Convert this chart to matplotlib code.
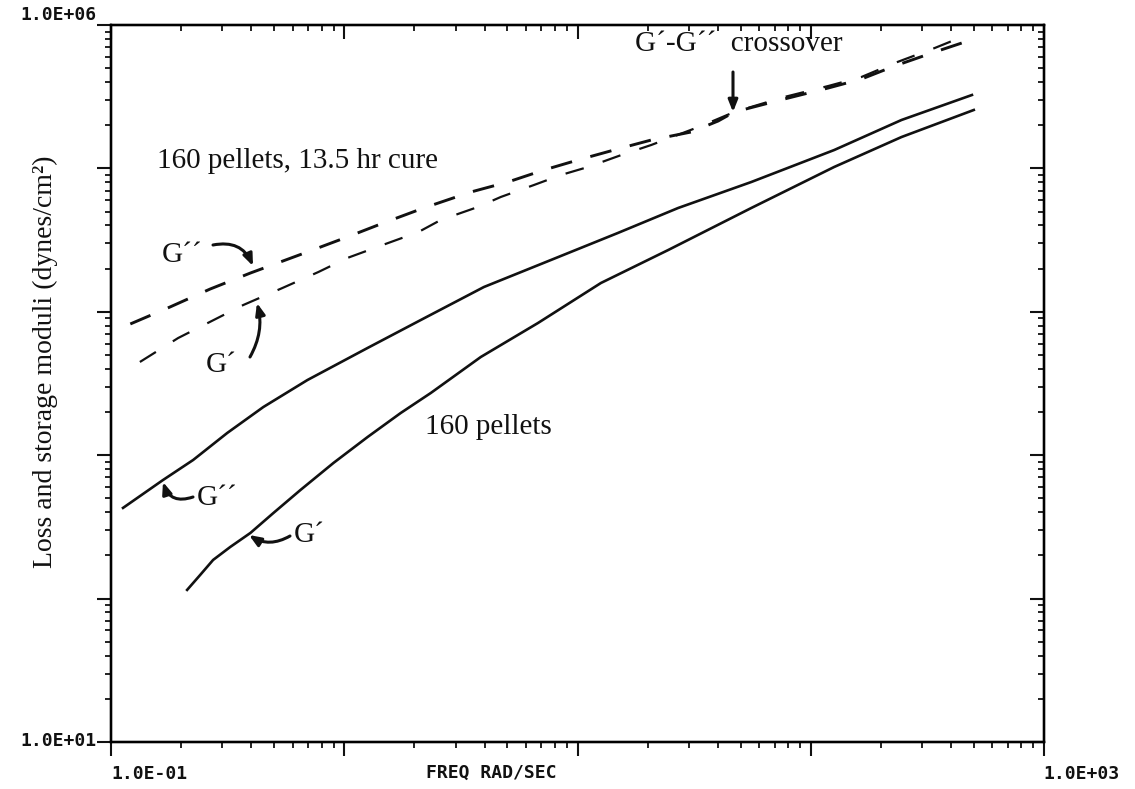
import matplotlib
matplotlib.use('Agg')
import matplotlib.pyplot as plt
from matplotlib.ticker import LogLocator, NullFormatter

# ---------------- data ----------------
# 160 pellets, 13.5 hr cure  (dashed)
freq_cure_Gpp = [0.121, 0.179, 0.266, 0.396, 0.695, 1.03, 1.47, 2.19, 3.49, 5.03, 7.18,
                 10.05, 15.4, 20.7, 30.7, 40.1, 47.0, 77.1, 119, 165, 229, 340, 444]
Gpp_cure = [8225, 10800, 14410, 18640, 26140, 33240, 41610, 52950, 68450, 80370, 97460,
            114500, 138700, 157700, 179400, 214100, 247300, 304800, 363800, 420000,
            518000, 648000, 748700]
freq_cure_Gp = [0.133, 0.194, 0.369, 0.543, 0.775, 1.03, 1.46, 2.08, 2.59, 3.74, 4.69,
                6.50, 8.49, 11.1, 15.4, 20.7, 33.9, 47.0, 77.1, 119, 165, 229, 340, 467]
Gp_cure = [4467, 6563, 11150, 14650, 18950, 23720, 29220, 36000, 43650, 53800, 63200,
           76560, 89940, 102300, 123900, 145600, 197600, 247300, 314800, 375600,
           434000, 543000, 691000, 851700]
# 160 pellets (solid)
freq_Gpp = [0.1126, 0.167, 0.225, 0.315, 0.450, 0.695, 1.259, 2.13, 3.97, 7.69, 14.9,
            27.0, 55.6, 126, 245, 491]
Gpp = [429, 671, 926, 1429, 2168, 3342, 5595, 8770, 14890, 22970, 35460, 52950,
       80370, 134300, 217600, 325000]
freq_Gp = [0.212, 0.241, 0.274, 0.3244, 0.396, 0.4966, 0.649, 0.899, 1.259, 1.745, 2.35,
           3.85, 6.77, 12.6, 24.5, 55.6, 126, 245, 500]
Gp = [115, 146, 186, 229, 287, 395, 572, 883, 1339, 1968, 2716, 4841, 8354, 15880,
      26980, 52950, 102300, 165500, 255500]

x_limits = (0.1, 1000)
y_limits = (10, 1e6)
x_tick_labels = ["1.0E-01", "1.0E+03"]
y_tick_labels = ["1.0E+01", "1.0E+06"]
x_title = "FREQ RAD/SEC"
y_title = "Loss and storage moduli (dynes/cm\u00b2)"

# ---------------- figure ----------------
W, H = 1135, 789
fig = plt.figure(figsize=(W / 100, H / 100), dpi=100)
fig.patch.set_facecolor('white')
L, R, T, B = 111, 1044, 25, 742
ax = fig.add_axes([L / W, (H - B) / H, (R - L) / W, (B - T) / H])

ax.set_xscale('log')
ax.set_yscale('log')
ax.set_xlim(*x_limits)
ax.set_ylim(*y_limits)

ink = '#111111'
ax.plot(freq_cure_Gpp, Gpp_cure, color=ink, lw=2.1, dashes=(7.5, 6.5), solid_capstyle='butt')
ax.plot(freq_cure_Gp, Gp_cure, color=ink, lw=1.6, dashes=(8.5, 9.0))
ax.plot(freq_Gpp, Gpp, color=ink, lw=1.9)
ax.plot(freq_Gp, Gp, color=ink, lw=1.9)

for sp in ax.spines.values():
    sp.set_linewidth(1.6)
    sp.set_color(ink)

def setup_log_ticks(axis):
    axis.set_major_locator(LogLocator(base=10))
    axis.set_minor_locator(LogLocator(base=10, subs=range(2, 10)))
    axis.set_major_formatter(NullFormatter())
    axis.set_minor_formatter(NullFormatter())

setup_log_ticks(ax.xaxis)
setup_log_ticks(ax.yaxis)
ax.tick_params(which='major', direction='out', length=10, width=1.5, color=ink)
ax.tick_params(which='minor', direction='out', length=4.5, width=1.3, color=ink)

axr = ax.twinx()
axr.set_yscale('log')
axr.set_ylim(*y_limits)
setup_log_ticks(axr.yaxis)
axr.tick_params(which='major', direction='in', length=10, width=1.5, color=ink)
axr.tick_params(which='minor', direction='in', length=4.5, width=1.3, color=ink)

axt = ax.twiny()
axt.set_xscale('log')
axt.set_xlim(*x_limits)
setup_log_ticks(axt.xaxis)
axt.tick_params(which='major', direction='in', length=10, width=1.5, color=ink)
axt.tick_params(which='minor', direction='in', length=4.5, width=1.3, color=ink)
for a in (axr, axt):
    for sp in a.spines.values():
        sp.set_linewidth(1.6)

# ---------------- plotter-style tick labels ----------------
mono = dict(family=['DejaVu Sans Mono'], weight='bold', fontsize=13, color=ink)

def ftext(px, py, s, **kw):
    fig.text(px / W, 1 - py / H, s, **kw)

ftext(L, 765, x_tick_labels[0], ha='left', va='top', **mono)
ftext(R - 1, 765, x_tick_labels[1], ha='left', va='top', **mono)
ftext(97, 24, y_tick_labels[1], ha='right', va='bottom', **mono)
ftext(97, 746, y_tick_labels[0], ha='right', va='baseline', **mono)
ftext(491, 773, x_title, ha='center', va='center', **mono)

serif = dict(family=['Liberation Serif', 'DejaVu Serif'], color=ink)
ftext(45, 362, y_title, rotation=90, ha='center', va='center', fontsize=20, **serif)

# ---------------- annotations ----------------
ftext(157, 168, "160 pellets, 13.5 hr cure", ha='left', va='baseline', fontsize=21, **serif)
ftext(635, 51, "G\u00b4-G\u00b4\u00b4  crossover", ha='left', va='baseline', fontsize=21, **serif)
ftext(425, 434, "160 pellets", ha='left', va='baseline', fontsize=21, **serif)
ftext(162, 262, "G\u00b4\u00b4", ha='left', va='baseline', fontsize=21, **serif)
ftext(206, 372, "G\u00b4", ha='left', va='baseline', fontsize=21, **serif)
ftext(197, 505, "G\u00b4\u00b4", ha='left', va='baseline', fontsize=21, **serif)
ftext(294, 542, "G\u00b4", ha='left', va='baseline', fontsize=21, **serif)

def arrow(p_from, p_to, rad):
    ax.annotate('', xy=(p_to[0], H - p_to[1]), xycoords='figure pixels',
                xytext=(p_from[0], H - p_from[1]), textcoords='figure pixels',
                arrowprops=dict(arrowstyle='-|>,head_length=0.7,head_width=0.28',
                                lw=2.2, color=ink, shrinkA=0, shrinkB=0,
                                connectionstyle=f'arc3,rad={rad}'))

arrow((213, 245), (253, 266), -0.4)
arrow((250, 357), (257, 303), 0.2)
arrow((193, 497), (163, 482), -0.5)
arrow((290, 536), (249, 535), -0.3)
arrow((733, 72), (733, 112), 0.0)

fig.savefig('out.png', dpi=100, facecolor='white')
